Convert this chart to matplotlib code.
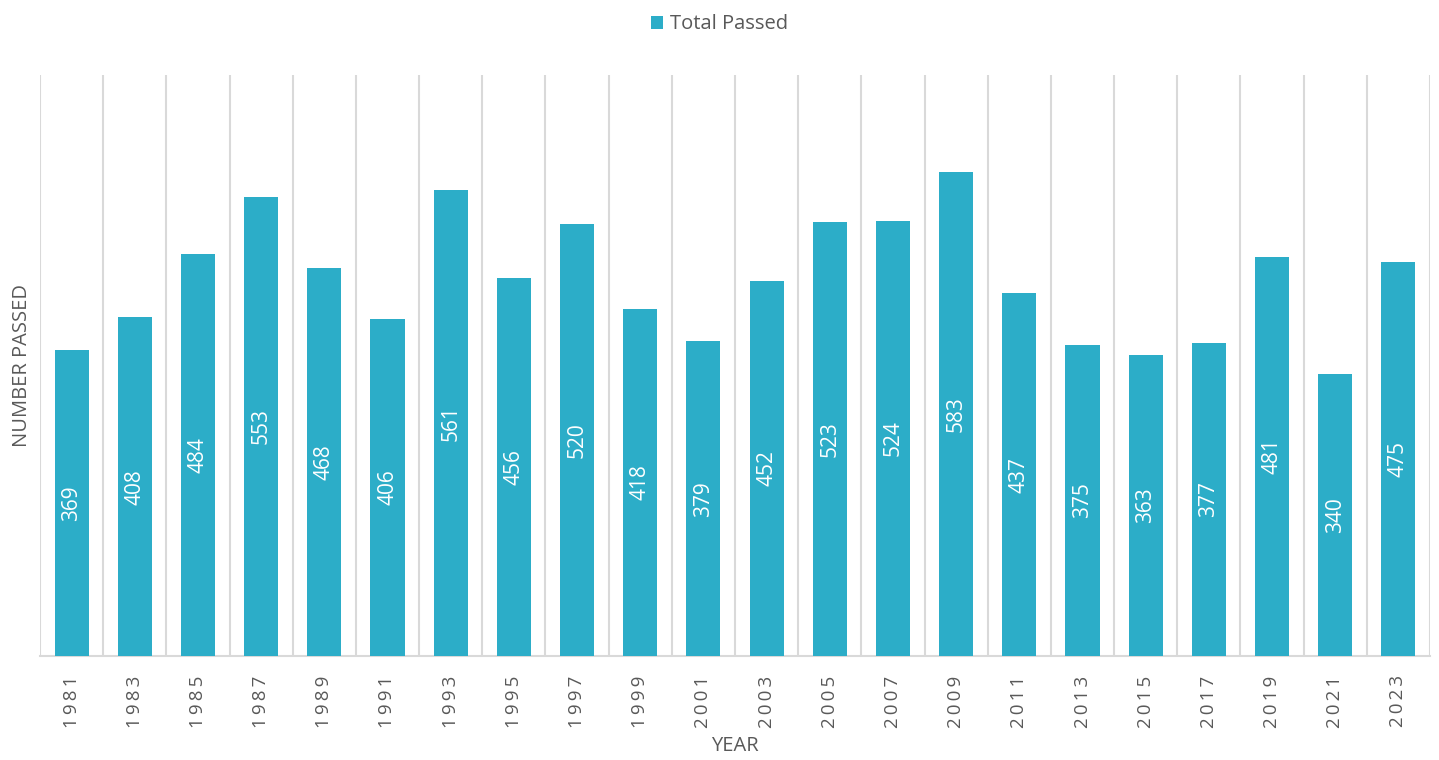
import matplotlib
matplotlib.use("Agg")
import matplotlib.pyplot as plt
import numpy as np

years = [1981, 1983, 1985, 1987, 1989, 1991, 1993, 1995, 1997, 1999, 2001,
         2003, 2005, 2007, 2009, 2011, 2013, 2015, 2017, 2019, 2021, 2023]
passed = [369, 408, 484, 553, 468, 406, 561, 456, 520, 418, 379,
          452, 523, 524, 583, 437, 375, 363, 377, 481, 340, 475]
series_name = "Total Passed"

plt.rcParams['font.family'] = ['Open Sans', 'DejaVu Sans']
bar_color = "#2CADC8"
grid_color = "#D9D9D9"
text_color = "#595959"

fig = plt.figure(figsize=(14.39, 7.6), dpi=100)
ax = fig.add_axes([40/1439, 1-656/760, 1390/1439, (656-75)/760])

x = np.arange(len(years))
bars = ax.bar(x, passed, width=0.54, color=bar_color, label=series_name, zorder=3)
ax.set_xlim(-0.5, len(years) - 0.5)
ax.set_ylim(0, 700)

for xi in np.arange(-0.5, len(years), 1.0):
    ax.axvline(xi, color=grid_color, lw=1.5, zorder=1)

for xi, v in zip(x, passed):
    ax.text(xi, v / 2, str(v), rotation=90, ha='center', va='center',
            color='white', fontsize=15, zorder=4)

ax.set_xticks(x)
ax.set_xticklabels(['\u2009'.join(str(y)) for y in years], rotation=90,
                   color=text_color, fontsize=13.5)
ax.tick_params(axis='x', length=0, pad=14)
ax.set_yticks([])
for s in ['top', 'right', 'left']:
    ax.spines[s].set_visible(False)
ax.spines['bottom'].set_color(grid_color)
ax.spines['bottom'].set_linewidth(1.5)

ax.set_xlabel("YEAR", color=text_color, fontsize=14.5, labelpad=6)
ax.set_ylabel("NUMBER PASSED", color=text_color, fontsize=14.5, labelpad=6)

fig.legend(handles=[bars], labels=[series_name], loc='upper center',
           bbox_to_anchor=(0.5, 1.005), frameon=False, fontsize=14.5,
           labelcolor=text_color, handlelength=0.6, handleheight=0.6,
           handletextpad=0.3)

fig.savefig("out.png", dpi=100)
